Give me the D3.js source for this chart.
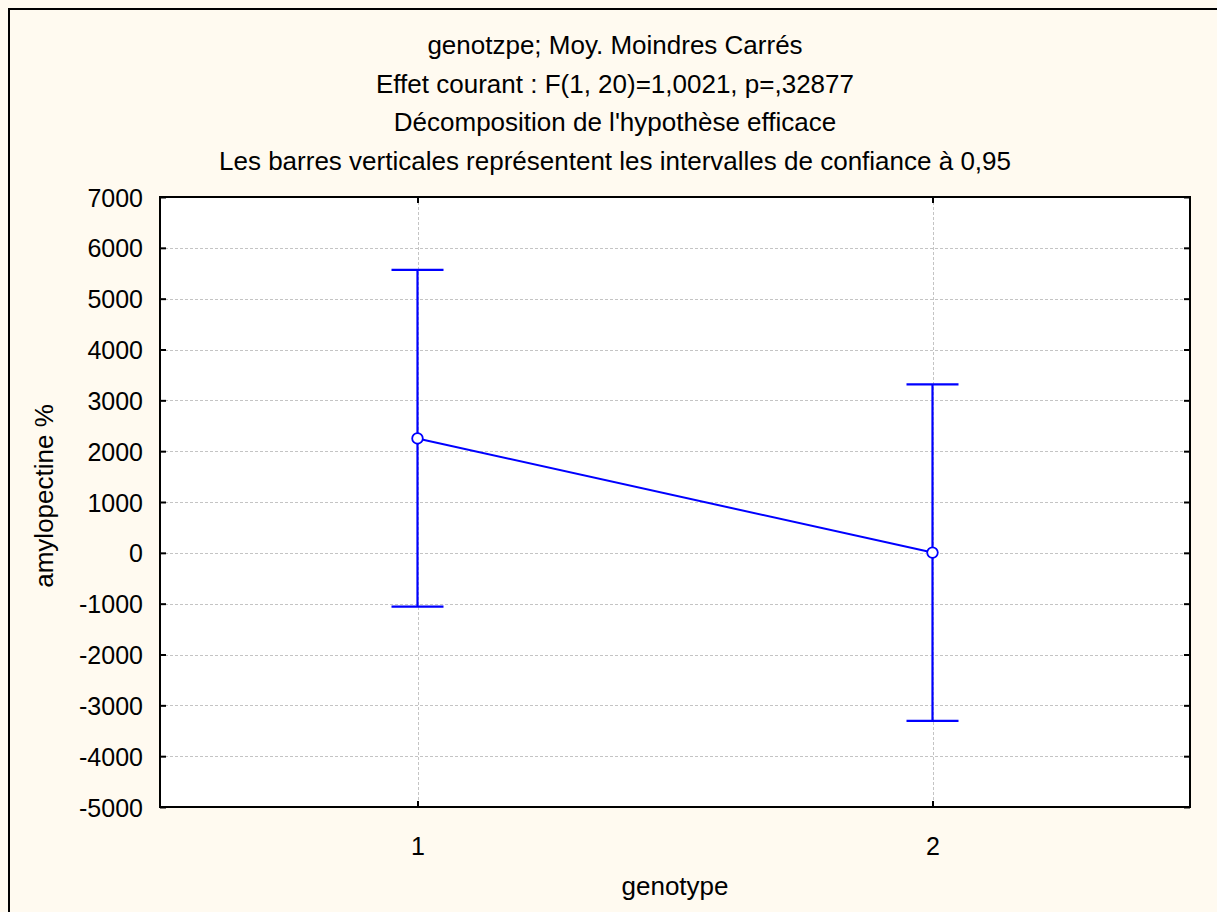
<!DOCTYPE html>
<html>
<head>
<meta charset="utf-8">
<script src="https://cdn.jsdelivr.net/npm/d3@7"></script>
<style>
  html, body { margin: 0; padding: 0; background: #fffaf0; }
  svg { display: block; }
  text { font-family: "Liberation Sans", Arial, sans-serif; fill: #000; }
</style>
</head>
<body>
<svg id="chart" width="1217" height="912"></svg>
<script>
// Data
const genotypes = [1, 2];
const means = [2250, 5];
const ciLow = [-1060, -3305];
const ciHigh = [5565, 3315];
const yTicks = [-5000, -4000, -3000, -2000, -1000, 0, 1000, 2000, 3000, 4000, 5000, 6000, 7000];
const titleLines = [
    "genotzpe; Moy. Moindres Carrés",
    "Effet courant : F(1, 20)=1,0021, p=,32877",
    "Décomposition de l'hypothèse efficace",
    "Les barres verticales représentent les intervalles de confiance à 0,95"
];

const svg = d3.select("#chart");
const W = 1217, H = 912;
const plot = { left: 160, right: 1190, top: 197, bottom: 807 };

// background and outer frame (right/bottom edges are cut off in the original)
svg.append("rect").attr("width", W).attr("height", H).attr("fill", "#fffaf0");
svg.append("path")
    .attr("d", `M9,${H + 5}V9H${W + 5}`)
    .attr("fill", "none").attr("stroke", "#000").attr("stroke-width", 2);

// scales
const x = d3.scaleLinear().domain([0.5, 2.5]).range([plot.left, plot.right]);
const y = d3.scaleLinear().domain([-5000, 7000]).range([plot.bottom, plot.top]);

// plot area
svg.append("rect")
    .attr("x", plot.left).attr("y", plot.top)
    .attr("width", plot.right - plot.left).attr("height", plot.bottom - plot.top)
    .attr("fill", "#fff");

// grid
const grid = svg.append("g")
    .attr("stroke", "#c4c4c4").attr("stroke-width", 1).attr("stroke-dasharray", "3,2");
grid.selectAll("line.gy")
    .data(yTicks.slice(1, -1))
    .join("line")
    .attr("x1", plot.left).attr("x2", plot.right)
    .attr("y1", d => Math.round(y(d)) + 0.5).attr("y2", d => Math.round(y(d)) + 0.5);
grid.selectAll("line.gx")
    .data(genotypes)
    .join("line")
    .attr("y1", plot.top).attr("y2", plot.bottom)
    .attr("x1", d => Math.round(x(d)) + 0.5).attr("x2", d => Math.round(x(d)) + 0.5);

// axes with inward ticks; plain hyphen for negatives like the original
const tickLen = 6;
const fmt = d => String(d);
const yLeft = svg.append("g")
    .attr("transform", `translate(${plot.left},0)`)
    .call(d3.axisLeft(y).tickValues(yTicks).tickSize(-tickLen).tickPadding(11 + tickLen).tickFormat(fmt));
const yRight = svg.append("g")
    .attr("transform", `translate(${plot.right},0)`)
    .call(d3.axisRight(y).tickValues(yTicks).tickSize(-tickLen).tickFormat(""));
const xBottom = svg.append("g")
    .attr("transform", `translate(0,${plot.bottom})`)
    .call(d3.axisBottom(x).tickValues(genotypes).tickSize(-tickLen).tickPadding(24 + tickLen).tickFormat(fmt));
const xTop = svg.append("g")
    .attr("transform", `translate(0,${plot.top})`)
    .call(d3.axisTop(x).tickValues(genotypes).tickSize(-tickLen).tickFormat(""));

[yLeft, yRight, xBottom, xTop].forEach(g => {
    g.select(".domain").remove();
    g.selectAll(".tick line").attr("stroke", "#000").attr("stroke-width", 2);
    g.selectAll(".tick text")
        .style("font-family", "'Liberation Sans', Arial, sans-serif")
        .style("font-size", "25px")
        .attr("fill", "#000");
});
yLeft.selectAll(".tick text").attr("dy", "0.36em");
xBottom.selectAll(".tick text").attr("dy", "0.71em");

// frame
svg.append("rect")
    .attr("x", plot.left).attr("y", plot.top)
    .attr("width", plot.right - plot.left).attr("height", plot.bottom - plot.top)
    .attr("fill", "none").attr("stroke", "#000").attr("stroke-width", 2);

// mean line
const blue = "#0000ff";
const pts = genotypes.map((g, i) => ({ g, m: means[i], lo: ciLow[i], hi: ciHigh[i] }));
svg.append("path")
    .datum(pts)
    .attr("d", d3.line().x(d => x(d.g)).y(d => y(d.m)))
    .attr("fill", "none").attr("stroke", blue).attr("stroke-width", 2);

// error bars
const capHalf = 26;
const bars = svg.append("g").attr("stroke", blue).attr("stroke-width", 2.2);
bars.selectAll("line.v")
    .data(pts).join("line")
    .attr("x1", d => x(d.g)).attr("x2", d => x(d.g))
    .attr("y1", d => y(d.lo)).attr("y2", d => y(d.hi));
bars.selectAll("line.hi")
    .data(pts).join("line")
    .attr("x1", d => x(d.g) - capHalf).attr("x2", d => x(d.g) + capHalf)
    .attr("y1", d => y(d.hi)).attr("y2", d => y(d.hi));
bars.selectAll("line.lo")
    .data(pts).join("line")
    .attr("x1", d => x(d.g) - capHalf).attr("x2", d => x(d.g) + capHalf)
    .attr("y1", d => y(d.lo)).attr("y2", d => y(d.lo));

// mean markers
svg.selectAll("circle.mean")
    .data(pts).join("circle")
    .attr("cx", d => x(d.g)).attr("cy", d => y(d.m)).attr("r", 5.3)
    .attr("fill", "#fff").attr("stroke", blue).attr("stroke-width", 1.8);

// titles
svg.append("g").selectAll("text")
    .data(titleLines).join("text")
    .attr("x", 615).attr("y", (d, i) => 54 + i * 38.5)
    .attr("text-anchor", "middle")
    .style("font-size", "26px")
    .text(d => d);

// axis titles
svg.append("text")
    .attr("x", (plot.left + plot.right) / 2).attr("y", 895)
    .attr("text-anchor", "middle").style("font-size", "26px")
    .text("genotype");
svg.append("text")
    .attr("transform", `translate(53,${(plot.top + plot.bottom) / 2 - 6}) rotate(-90)`)
    .attr("text-anchor", "middle").style("font-size", "26px")
    .text("amylopectine %");
</script>
</body>
</html>
